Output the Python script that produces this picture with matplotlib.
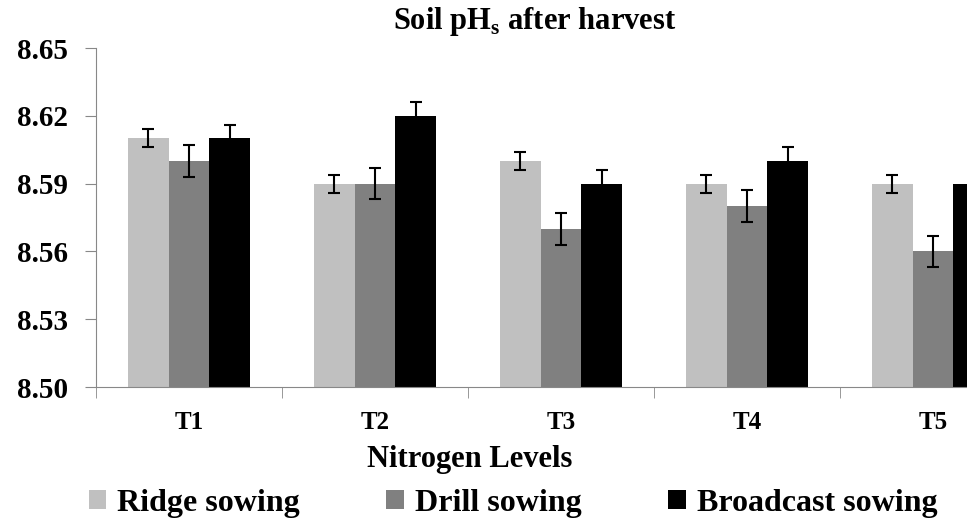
import numpy as np
import matplotlib
matplotlib.use("Agg")
import matplotlib.pyplot as plt

plt.rcParams['font.family'] = ['Liberation Serif', 'DejaVu Serif']
plt.rcParams['font.weight'] = 'bold'
plt.rcParams['mathtext.fontset'] = 'custom'
plt.rcParams['mathtext.rm'] = 'Liberation Serif:bold'
plt.rcParams['mathtext.bf'] = 'Liberation Serif:bold'

# data
levels = ['T1', 'T2', 'T3', 'T4', 'T5']
ridge = [8.61, 8.59, 8.60, 8.59, 8.59]
drill = [8.60, 8.59, 8.57, 8.58, 8.56]
broadcast = [8.61, 8.62, 8.59, 8.60, 8.59]
ridge_err = [0.004, 0.004, 0.004, 0.004, 0.004]
drill_err = [0.007, 0.007, 0.007, 0.007, 0.007]
broadcast_err = [0.006, 0.006, 0.006, 0.006, 0.006]
yticks = [8.50, 8.53, 8.56, 8.59, 8.62, 8.65]

fig = plt.figure(figsize=(9.67, 5.19), dpi=100)
# axes runs past the right edge, like the cropped original
ax = fig.add_axes([96 / 967, 1 - 387 / 519, 930 / 967, 339 / 519])

x = np.arange(len(levels))
w = 0.22
series = [
    (ridge, ridge_err, '#C0C0C0', 'Ridge sowing'),
    (drill, drill_err, '#808080', 'Drill sowing'),
    (broadcast, broadcast_err, '#000000', 'Broadcast sowing'),
]
for i, (vals, errs, col, lab) in enumerate(series):
    ax.bar(x + (i - 1) * w, vals, w, color=col, label=lab,
           yerr=errs, error_kw=dict(ecolor='black', elinewidth=1.5,
                                    capsize=4.5, capthick=1.5))

ax.set_ylim(8.50, 8.65)
ax.set_xlim(-0.5, len(levels) - 0.5)
ax.set_yticks(yticks)
ax.set_yticklabels([f'{v:.2f}' for v in yticks], fontsize=21, fontweight='bold')
ax.set_xticks(x)
ax.set_xticklabels(levels, fontsize=18, fontweight='bold')
ax.set_xticks(np.arange(len(levels) + 1) - 0.5, minor=True)
ax.tick_params(axis='x', which='major', length=0, pad=17)
ax.tick_params(axis='x', which='minor', length=8, color='#888888')
ax.tick_params(axis='y', length=8, color='#888888', pad=12)

for s in ['top', 'right']:
    ax.spines[s].set_visible(False)
for s in ['left', 'bottom']:
    ax.spines[s].set_color('#888888')

fig.text(535 / 967, 1 - 22 / 519, 'Soil pH$_\\mathregular{s}$ after harvest',
         ha='center', va='center', fontsize=22, fontweight='bold')
fig.text(470 / 967, 1 - 459 / 519, 'Nitrogen Levels',
         ha='center', va='center', fontsize=22, fontweight='bold')

fig.legend(loc='center', bbox_to_anchor=(513 / 967, 1 - 503 / 519), ncol=3,
           frameon=False, handlelength=0.55, handleheight=0.55,
           handletextpad=0.35, columnspacing=2.7,
           prop={'weight': 'bold', 'size': 23})

fig.savefig('out.png', dpi=100)
